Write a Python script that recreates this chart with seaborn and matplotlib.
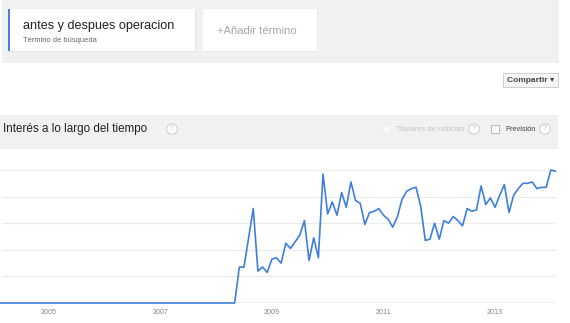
import matplotlib
matplotlib.use("Agg")
import matplotlib.pyplot as plt
from matplotlib.patches import Rectangle
import seaborn as sns
import pandas as pd

# ---------------- data ----------------
months = pd.date_range("2004-01-01", "2014-02-01", freq="MS")
interest = [
    0, 0, 0, 0, 0, 0, 0, 0, 0, 0, 0, 0,
    0, 0, 0, 0, 0, 0, 0, 0, 0, 0, 0, 0,
    0, 0, 0, 0, 0, 0, 0, 0, 0, 0, 0, 0,
    0, 0, 0, 0, 0, 0, 0, 0, 0, 0, 0, 0,
    0, 0, 0, 0, 0,
    27, 27, 49, 71, 24, 27, 23, 33, 34, 30, 45, 41, 46, 51, 62,
    32, 49, 34, 97, 67, 76, 66, 83, 72, 91, 77, 75, 59, 68, 69,
    71, 66, 63, 57, 65, 78, 84, 86, 87, 73, 47, 48, 60, 48, 62,
    60, 65, 62, 58, 71, 69, 70, 88, 74, 79, 72, 81, 89, 68, 81,
    86, 90, 90, 91, 86, 87, 87, 100, 99,
]
tick_years = [2005, 2007, 2009, 2011, 2013]
tick_labels = ["2005", "2007", "2009", "2011", "2013"]
grid_values = [20, 40, 60, 80, 100]

search_term = "antes y despues operacion"
term_sub = "Término de búsqueda"
add_term = "+Añadir término"
title = "Interés a lo largo del tiempo"

df = pd.DataFrame({"m": range(len(months)), "interest": interest})

# ---------------- figure ----------------
sns.set_theme(style="white")
FONT = ["Liberation Sans", "DejaVu Sans"]
plt.rcParams["font.family"] = FONT

W, H = 570, 323
fig = plt.figure(figsize=(W / 100, H / 100), dpi=100)
fig.patch.set_facecolor("white")


def fx(x):
    return x / W


def fy(y):
    return 1 - y / H


def rect(x0, y0, x1, y1, fc, ec="none", lw=0, z=0):
    fig.patches.append(Rectangle((fx(x0), fy(y1)), (x1 - x0) / W, (y1 - y0) / H,
                                 transform=fig.transFigure, facecolor=fc,
                                 edgecolor=ec, linewidth=lw, zorder=z))


def text(x, y, s, size, color, ha="left", weight="normal"):
    fig.text(fx(x), fy(y), s, fontsize=size, color=color, ha=ha, va="center",
             fontweight=weight, family=FONT)


def qmark(x, y):
    fig.text(fx(x), fy(y), "?", fontsize=5, color="#bbbbbb", ha="center", va="center",
             family=FONT,
             bbox=dict(boxstyle="circle,pad=0.25", fc="white", ec="#cccccc", lw=0.7))


# top band with search term cards
rect(2, 0, 559, 63, "#f1f1f1")
rect(9, 10, 196, 52, "#e2e2e2")
rect(8, 9, 195, 51, "white")
rect(8, 9, 10, 51, "#4d7de0")
text(23, 26, search_term, 9.05, "#222222")
text(23, 40.5, term_sub, 5.4, "#666666")
rect(204, 10, 318, 52, "#ececec")
rect(203, 9, 317, 51, "white")
text(217, 30.5, add_term, 8.1, "#a8a8a8")

# share button
rect(503, 73, 558, 87, "#f5f5f5", ec="#cfcfcf", lw=0.7)
text(530.5, 80, "Compartir ▾", 6.0, "#444444", ha="center", weight="bold")

# title band
rect(0, 115, 558, 149, "#f1f1f1")
text(3, 129, title, 8.4, "#222222")
qmark(172, 129)
rect(383, 125, 390, 133, "#f9f9f9", ec="#eeeeee", lw=0.6)
text(396, 129.5, "Titulares de noticias", 5.5, "#c4c4c4")
qmark(474, 129)
rect(491, 125, 499, 133, "white", ec="#b5b5b5", lw=0.7)
text(505, 129.5, "Previsión", 5.3, "#444444")
qmark(545, 129)

# ---------------- chart ----------------
ax_left, ax_right, ax_bottom, ax_top = 2, 555.5, 303, 170
ax = fig.add_axes([fx(ax_left), fy(ax_bottom), (ax_right - ax_left) / W,
                   (ax_bottom - ax_top) / H])
ax.set_facecolor("none")

for g in grid_values:
    ax.axhline(g, color="#ebebeb", lw=0.8, zorder=0)
ax.axhline(0, color="#b8b8b8", lw=1.0, zorder=1)

sns.lineplot(data=df, x="m", y="interest", ax=ax, color="#3f7fdc",
             linewidth=1.2, clip_on=False, zorder=3)

m0 = months[0].year
ax.set_xlim(1.96, 121)
ax.set_ylim(0, 100)
ax.set_xticks([(y - m0) * 12 for y in tick_years])
ax.set_xticklabels(tick_labels, fontsize=5.2, color="#888888", family=FONT)
ax.tick_params(axis="x", length=0, pad=4.5)
ax.set_yticks([])
ax.set_xlabel("")
ax.set_ylabel("")
for s in ax.spines.values():
    s.set_visible(False)

fig.savefig("out.png", dpi=100, facecolor="white")
